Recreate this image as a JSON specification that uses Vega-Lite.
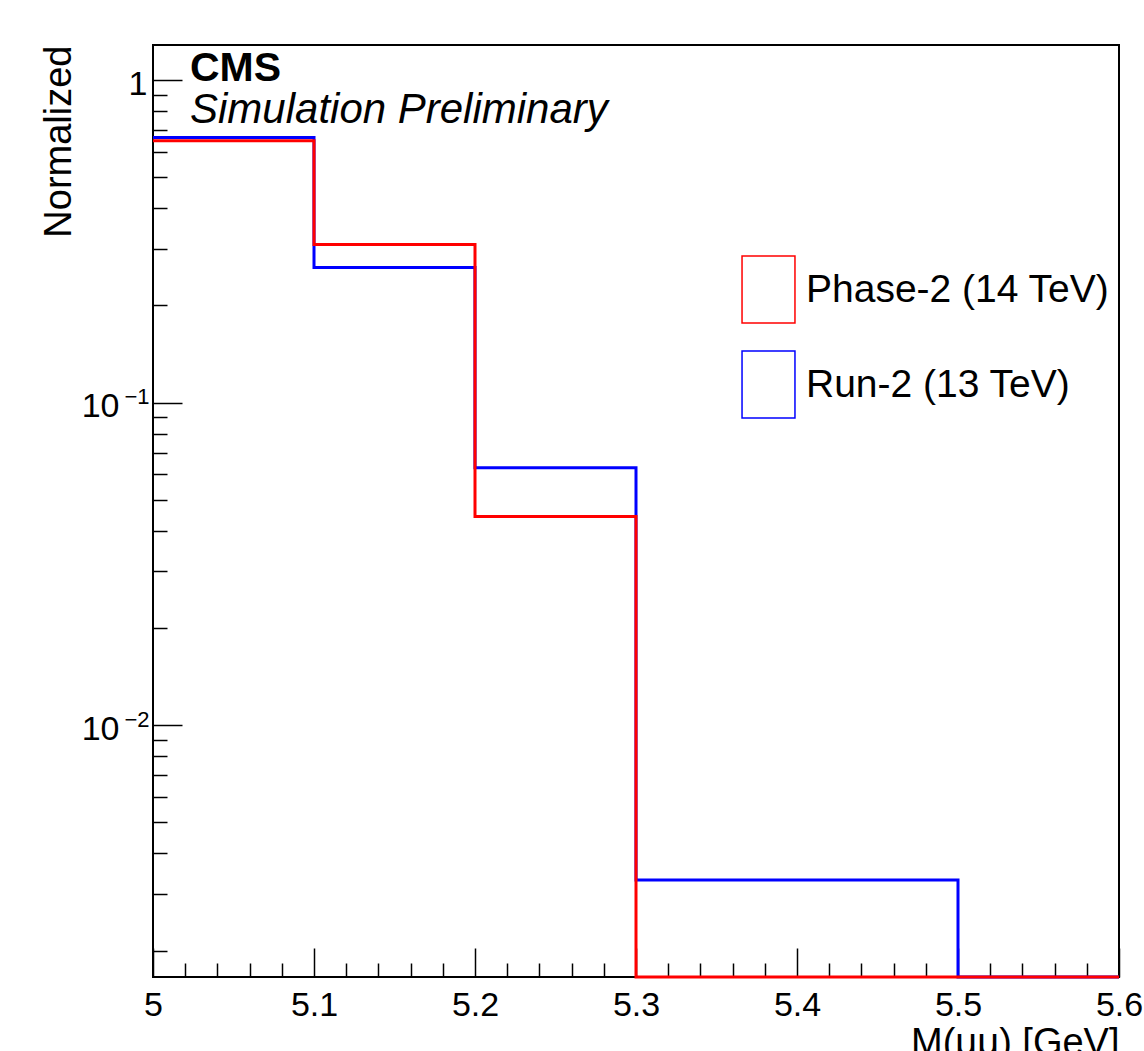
{
  "$schema": "https://vega.github.io/schema/vega-lite/v6.json",
  "autosize": {"type": "none"},
  "padding": {"left": 153, "top": 45, "right": 25, "bottom": 74},
  "width": 966,
  "height": 932,
  "background": "white",
  "config": {
    "view": {"stroke": "black", "strokeWidth": 2},
    "font": "Liberation Sans"
  },
  "title": {
    "text": "CMS",
    "subtitle": "Simulation Preliminary",
    "anchor": "start",
    "frame": "group",
    "orient": "top",
    "offset": 0,
    "dx": 37,
    "dy": 87,
    "font": "Liberation Sans",
    "fontSize": 41,
    "fontWeight": "bold",
    "color": "black",
    "subtitleFont": "Liberation Sans",
    "subtitleFontSize": 42,
    "subtitleFontStyle": "italic",
    "subtitleColor": "black",
    "subtitlePadding": 0
  },
  "data": {
    "values": [
      {"sample": "Run-2 (13 TeV)", "mass": 5.0, "fraction": 0.664},
      {"sample": "Run-2 (13 TeV)", "mass": 5.1, "fraction": 0.2624},
      {"sample": "Run-2 (13 TeV)", "mass": 5.2, "fraction": 0.0628},
      {"sample": "Run-2 (13 TeV)", "mass": 5.3, "fraction": 0.00331},
      {"sample": "Run-2 (13 TeV)", "mass": 5.5, "fraction": 0},
      {"sample": "Run-2 (13 TeV)", "mass": 5.6, "fraction": 0},
      {"sample": "Phase-2 (14 TeV)", "mass": 5.0, "fraction": 0.648},
      {"sample": "Phase-2 (14 TeV)", "mass": 5.1, "fraction": 0.309},
      {"sample": "Phase-2 (14 TeV)", "mass": 5.2, "fraction": 0.0443},
      {"sample": "Phase-2 (14 TeV)", "mass": 5.3, "fraction": 0},
      {"sample": "Phase-2 (14 TeV)", "mass": 5.5, "fraction": 0},
      {"sample": "Phase-2 (14 TeV)", "mass": 5.6, "fraction": 0}
    ]
  },
  "layer": [
    {
      "mark": {"type": "line", "interpolate": "step-after", "strokeWidth": 3, "invalid": null},
      "encoding": {
        "x": {
          "field": "mass",
          "type": "quantitative",
          "scale": {"domain": [5, 5.6], "nice": false, "zero": false},
          "axis": {
            "orient": "bottom",
            "values": [5, 5.1, 5.2, 5.3, 5.4, 5.5, 5.6],
            "format": ".1~f",
            "tickSize": -29,
            "tickColor": "black",
            "tickWidth": 1.5,
            "domain": false,
            "grid": false,
            "labelFont": "Liberation Sans",
            "labelFontSize": 34,
            "labelColor": "black",
            "labelBaseline": "alphabetic",
            "labelPadding": 67,
            "labelFlush": false,
            "labelOverlap": false,
            "labelBound": false,
            "title": "M(μμ) [GeV]",
            "titleFont": "Liberation Sans",
            "titleFontSize": 38,
            "titleFontWeight": "normal",
            "titleColor": "black",
            "titleAnchor": "end",
            "titleBaseline": "alphabetic",
            "titleY": 77
          }
        },
        "y": {
          "field": "fraction",
          "type": "quantitative",
          "scale": {"type": "log", "domain": [0.001656, 1.284], "nice": false, "clamp": true},
          "axis": {
            "orient": "left",
            "values": [0.01, 0.1, 1],
            "labelExpr": "datum.value >= 1 ? '1' : '10'",
            "tickSize": -29,
            "tickColor": "black",
            "tickWidth": 1.5,
            "domain": false,
            "grid": false,
            "labelFont": "Liberation Sans",
            "labelFontSize": 34,
            "labelColor": "black",
            "labelOffset": 4,
            "labelPadding": {"condition": {"test": "datum.value >= 1", "value": 35}, "value": 63},
            "labelFlush": false,
            "labelOverlap": false,
            "labelBound": false,
            "title": "Normalized",
            "titleFont": "Liberation Sans",
            "titleFontSize": 38,
            "titleFontWeight": "normal",
            "titleColor": "black",
            "titleAnchor": "end",
            "titleBaseline": "alphabetic",
            "titleX": -83
          }
        },
        "color": {
          "field": "sample",
          "type": "nominal",
          "scale": {"domain": ["Phase-2 (14 TeV)", "Run-2 (13 TeV)"], "range": ["#ff0000", "#0000ff"]},
          "legend": {
            "title": null,
            "orient": "none",
            "legendX": 581,
            "legendY": 210,
            "padding": 0,
            "symbolType": "M-0.79,-1H0.79V1H-0.79Z",
            "symbolSize": 4489,
            "symbolStrokeWidth": 1.5,
            "symbolFillColor": "white",
            "labelFont": "Liberation Sans",
            "labelFontSize": 39,
            "labelColor": "black",
            "labelOffset": 3,
            "labelLimit": 0,
            "rowPadding": 22
          }
        }
      }
    },
    {
      "mark": {"type": "line", "opacity": 0, "invalid": null},
      "encoding": {
        "x": {
          "field": "mass",
          "type": "quantitative",
          "axis": {
            "orient": "bottom",
            "values": [5.02, 5.04, 5.06, 5.08, 5.12, 5.14, 5.16, 5.18, 5.22, 5.24, 5.26, 5.28, 5.32, 5.34, 5.36, 5.38, 5.42, 5.44, 5.46, 5.48, 5.52, 5.54, 5.56, 5.58],
            "tickSize": -14,
            "tickColor": "black",
            "tickWidth": 1.5,
            "labels": false,
            "domain": false,
            "grid": false,
            "title": null
          }
        },
        "y": {
          "field": "fraction",
          "type": "quantitative",
          "axis": {
            "orient": "left",
            "values": [0.002, 0.003, 0.004, 0.005, 0.006, 0.007, 0.008, 0.009, 0.02, 0.03, 0.04, 0.05, 0.06, 0.07, 0.08, 0.09, 0.2, 0.3, 0.4, 0.5, 0.6, 0.7, 0.8, 0.9],
            "tickSize": -14,
            "tickColor": "black",
            "tickWidth": 1.5,
            "labels": false,
            "domain": false,
            "grid": false,
            "title": null
          }
        }
      }
    },
    {
      "mark": {"type": "line", "opacity": 0, "invalid": null},
      "encoding": {
        "x": {"field": "mass", "type": "quantitative", "axis": null},
        "y": {
          "field": "fraction",
          "type": "quantitative",
          "axis": {
            "orient": "left",
            "values": [0.01, 0.1],
            "labelExpr": "datum.value >= 0.1 ? '−1' : '−2'",
            "ticks": true,
            "tickSize": 0,
            "tickOpacity": 0,
            "domain": false,
            "grid": false,
            "labelFont": "Liberation Sans",
            "labelFontSize": 22,
            "labelColor": "black",
            "labelBaseline": "alphabetic",
            "labelOffset": 1,
            "labelPadding": 4,
            "labelFlush": false,
            "labelOverlap": false,
            "labelBound": false,
            "title": null
          }
        }
      }
    }
  ],
  "resolve": {"axis": {"x": "independent", "y": "independent"}}
}
